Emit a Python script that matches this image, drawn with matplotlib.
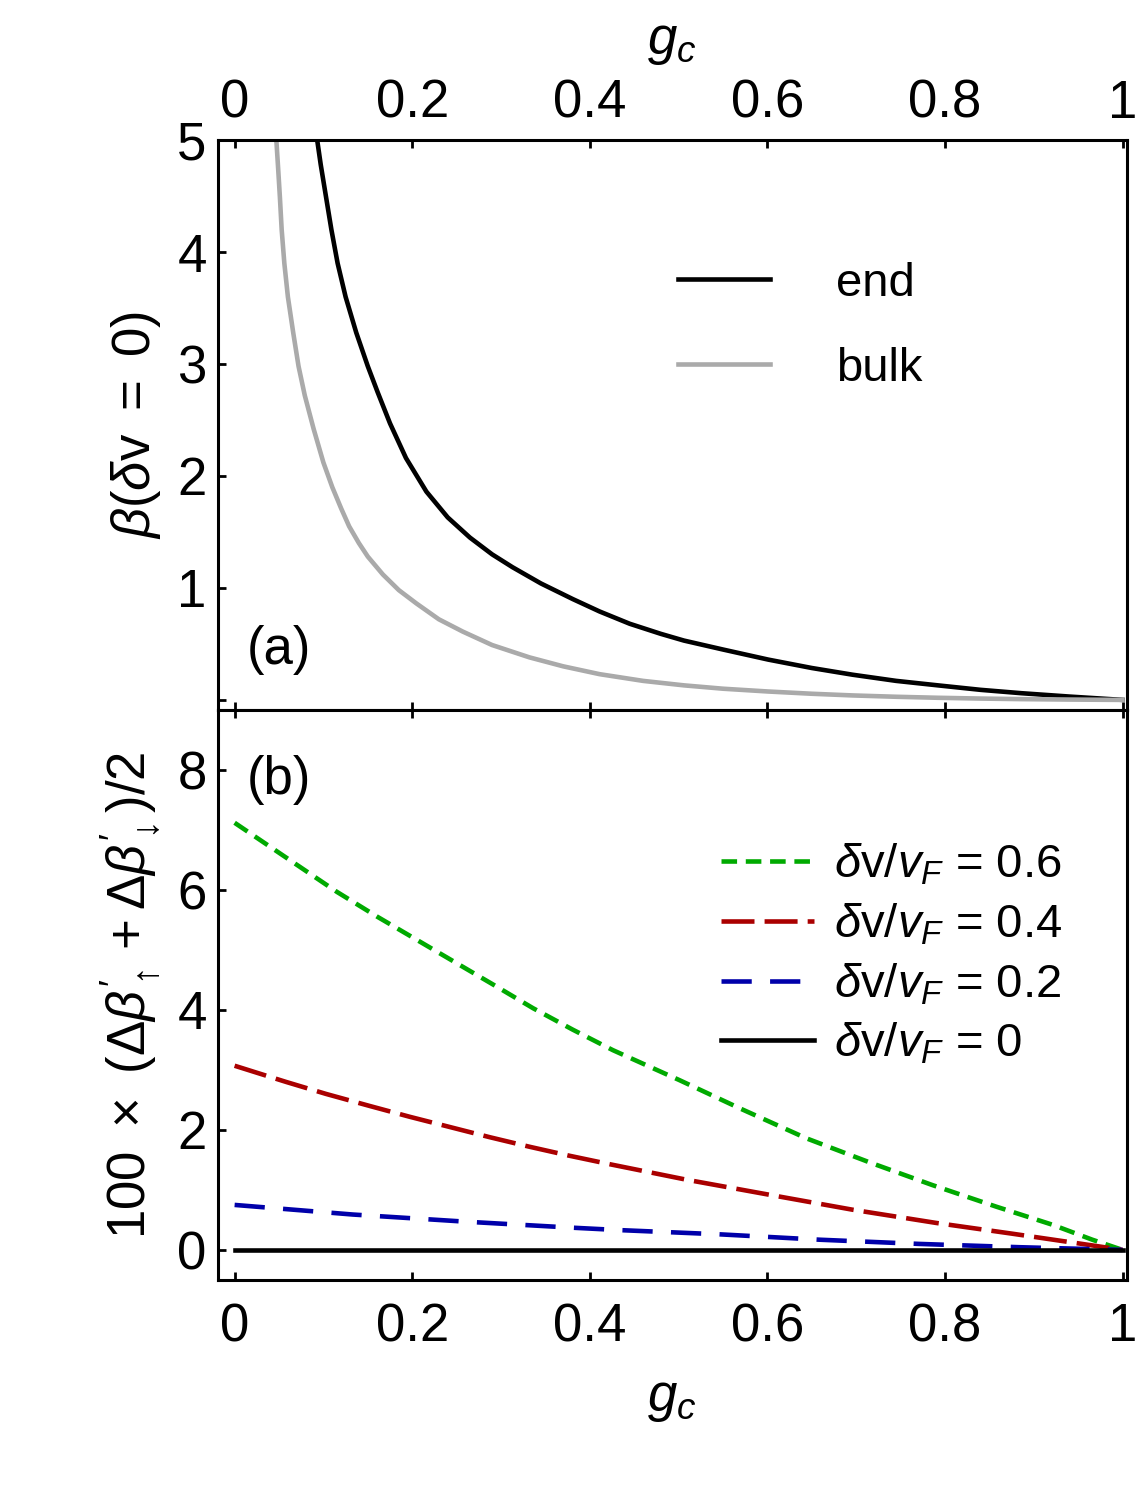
import matplotlib
matplotlib.use("Agg")
import matplotlib.pyplot as plt

plt.rcParams['font.family'] = ['Liberation Sans', 'DejaVu Sans']
plt.rcParams['mathtext.fontset'] = 'custom'
plt.rcParams['mathtext.rm'] = 'Liberation Sans'
plt.rcParams['mathtext.it'] = 'Liberation Sans:italic'
plt.rcParams['mathtext.bf'] = 'Liberation Sans:bold'
plt.rcParams['mathtext.fallback'] = 'stixsans'

# panel (a): beta at dv = 0
g_end = [0.093, 0.097, 0.103, 0.109, 0.116, 0.125, 0.137, 0.150, 0.161, 0.175,
         0.193, 0.216, 0.240, 0.265, 0.290, 0.313, 0.345, 0.381, 0.411, 0.445,
         0.480, 0.506, 0.550, 0.601, 0.650, 0.696, 0.745, 0.792, 0.840, 0.886,
         0.940, 1.0]
beta_end = [5.00, 4.78, 4.49, 4.20, 3.90, 3.60, 3.28, 2.98, 2.75, 2.47,
            2.16, 1.86, 1.63, 1.45, 1.30, 1.185, 1.04, 0.90, 0.79, 0.68,
            0.59, 0.53, 0.45, 0.36, 0.285, 0.225, 0.17, 0.13, 0.09, 0.06,
            0.03, 0.0]
g_bulk = [0.047, 0.049, 0.051, 0.053, 0.056, 0.060, 0.066, 0.072, 0.079, 0.089,
          0.100, 0.110, 0.120, 0.129, 0.140, 0.150, 0.167, 0.185, 0.205, 0.230,
          0.257, 0.290, 0.332, 0.370, 0.411, 0.460, 0.506, 0.550, 0.601, 0.650,
          0.696, 0.745, 0.792, 0.840, 0.886, 0.940, 1.0]
beta_bulk = [5.00, 4.75, 4.49, 4.20, 3.90, 3.60, 3.28, 2.98, 2.72, 2.42,
             2.12, 1.90, 1.71, 1.55, 1.40, 1.28, 1.12, 0.98, 0.86, 0.72,
             0.61, 0.49, 0.38, 0.30, 0.23, 0.17, 0.13, 0.10, 0.075, 0.055,
             0.04, 0.028, 0.019, 0.012, 0.007, 0.003, 0.0]

# panel (b): 100 x (dbeta'_up + dbeta'_down)/2
g_06 = [0, 0.028, 0.073, 0.115, 0.160, 0.205, 0.250, 0.295, 0.336, 0.381,
        0.426, 0.501, 0.569, 0.644, 0.715, 0.786, 0.858, 0.921, 0.966, 1.0]
d_06 = [7.12, 6.84, 6.39, 5.97, 5.56, 5.17, 4.78, 4.39, 4.03, 3.67,
        3.33, 2.83, 2.36, 1.86, 1.46, 1.08, 0.72, 0.42, 0.17, 0.0]
g_04 = [0, 0.058, 0.103, 0.152, 0.197, 0.242, 0.287, 0.332, 0.377, 0.422,
        0.509, 0.602, 0.696, 0.790, 0.876, 0.959, 1.0]
d_04 = [3.07, 2.80, 2.60, 2.40, 2.22, 2.05, 1.88, 1.72, 1.57, 1.43,
        1.17, 0.92, 0.67, 0.45, 0.27, 0.09, 0.0]
g_02 = [0, 0.133, 0.261, 0.381, 0.434, 0.546, 0.659, 0.771, 0.884, 1.0]
d_02 = [0.75, 0.59, 0.47, 0.37, 0.33, 0.26, 0.17, 0.10, 0.045, 0.0]
g_00 = [0, 1.0]
d_00 = [0, 0]

xticks = [0, 0.2, 0.4, 0.6, 0.8, 1.0]
xtick_labels = ['0', '0.2', '0.4', '0.6', '0.8', '1']

FS = 38      # ticks and axis labels
LFS = 34     # legend text
LW = 3.3

fig = plt.figure(figsize=(11.46, 14.90), dpi=100)
L, R = 0.190, 0.983
ax1 = fig.add_axes([L, 0.5235, R - L, 0.906 - 0.5235])
ax2 = fig.add_axes([L, 0.141, R - L, 0.5235 - 0.141])

for ax in (ax1, ax2):
    for s in ax.spines.values():
        s.set_linewidth(2.2)
    ax.tick_params(direction='in', length=6, width=2, labelsize=FS,
                   right=False, top=True, bottom=True, left=True, pad=8)
    ax.set_xlim(-0.019, 1.0045)
    ax.set_xticks(xticks)

# top panel
ax1.plot(g_end, beta_end, color='black', lw=LW, label='end')
ax1.plot(g_bulk, beta_bulk, color='#aaaaaa', lw=LW, label='bulk')
ax1.set_ylim(-0.09, 5.0)
ax1.set_yticks([0, 1, 2, 3, 4, 5])
ax1.set_yticklabels(['', '1', '2', '3', '4', '5'])
ax1.tick_params(labeltop=True, labelbottom=False)
ax1.set_xticklabels(xtick_labels)
ax1.xaxis.set_label_position('top')
ax1.set_xlabel(r'$g_c$', fontsize=FS, labelpad=18)
ax1.set_ylabel(r'$\beta(\delta\mathrm{v}\ =\ 0)$', fontsize=FS, labelpad=10)
ax1.text(0.032, 0.105, '(a)', transform=ax1.transAxes, fontsize=FS,
         va='center', ha='left')
ax1.legend(loc='upper left', bbox_to_anchor=(0.506, 0.786), frameon=False,
           fontsize=LFS, handlelength=1.95, handletextpad=1.4,
           labelspacing=0.86, borderpad=0, borderaxespad=0)

# bottom panel
ax2.plot(g_06, d_06, color='#00aa00', lw=LW, dashes=(3.4, 1.9),
         label=r'$\delta\mathrm{v}/v_F$ = 0.6')
ax2.plot(g_04, d_04, color='#aa0000', lw=LW, dashes=(7.2, 2.2),
         label=r'$\delta\mathrm{v}/v_F$ = 0.4')
ax2.plot(g_02, d_02, color='#0000aa', lw=LW, dashes=(6.6, 4.0),
         label=r'$\delta\mathrm{v}/v_F$ = 0.2')
ax2.plot(g_00, d_00, color='black', lw=LW, label=r'$\delta\mathrm{v}/v_F$ = 0')
ax2.set_ylim(-0.5, 9.0)
ax2.set_yticks([0, 2, 4, 6, 8])
ax2.set_xticklabels(xtick_labels)
ax2.tick_params(labeltop=False, labelbottom=True)
ax2.tick_params(axis='x', pad=16)
ax2.set_xlabel(r'$g_c$', fontsize=FS, labelpad=16)
ax2.set_ylabel(r"$100\ \times\ (\Delta\beta^{\prime}_{\uparrow}+\Delta\beta^{\prime}_{\downarrow})/2$",
               fontsize=FS, labelpad=10)
ax2.text(0.032, 0.878, '(b)', transform=ax2.transAxes, fontsize=FS,
         va='center', ha='left')
ax2.legend(loc='upper left', bbox_to_anchor=(0.554, 0.768), frameon=False,
           fontsize=LFS, handlelength=1.97, handletextpad=0.42,
           labelspacing=0.3, borderpad=0, borderaxespad=0)

fig.savefig('out.png', dpi=100)
